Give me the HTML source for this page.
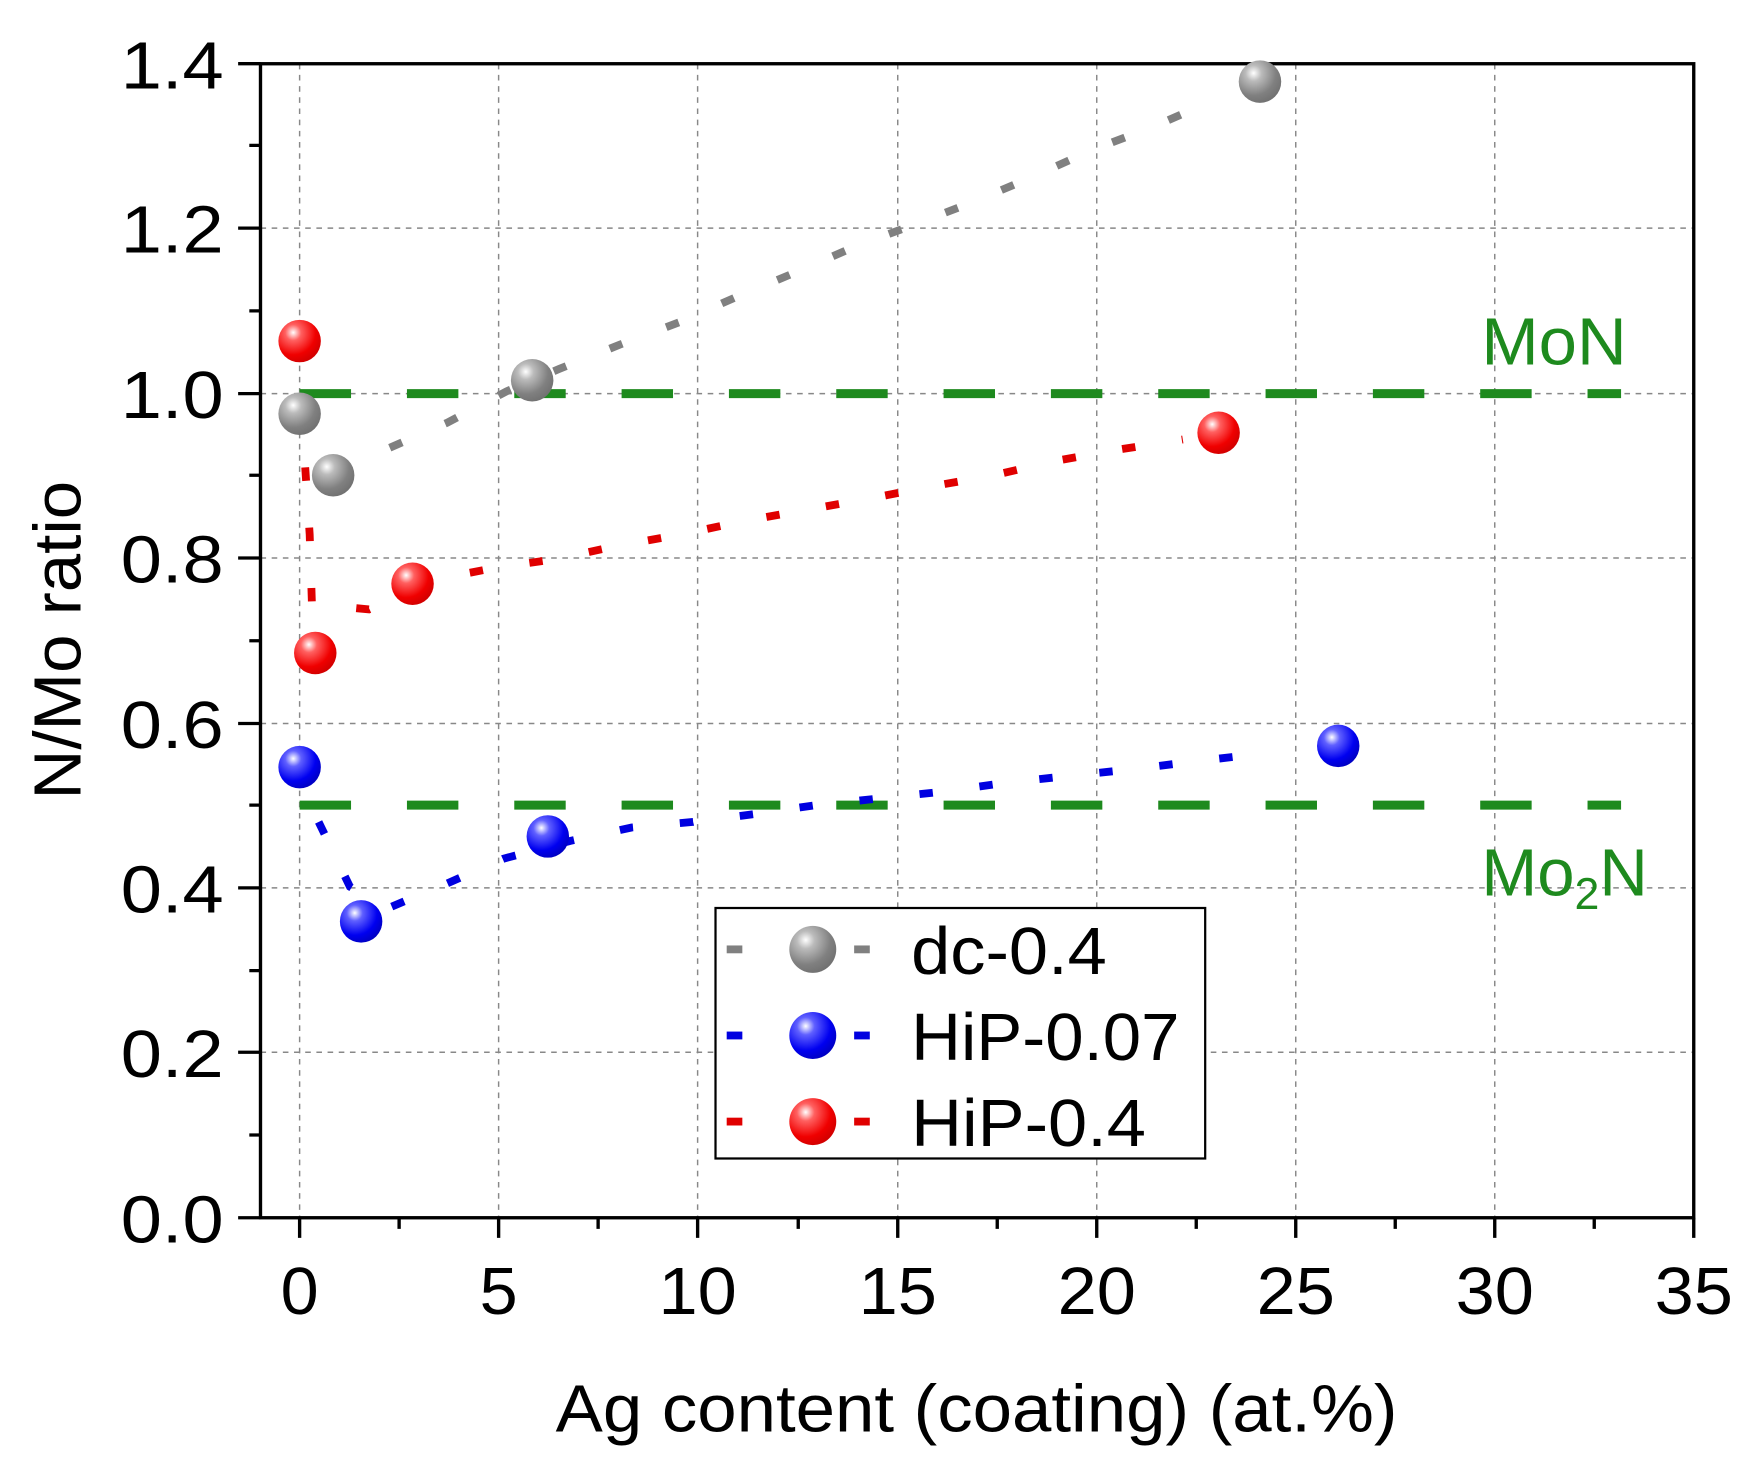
<!DOCTYPE html>
<html><head><style>html,body{margin:0;padding:0;background:#fff}svg{display:block}</style></head><body>
<svg width="1753" height="1466" viewBox="0 0 1568 1311" preserveAspectRatio="none" xmlns="http://www.w3.org/2000/svg" font-family="Liberation Sans, Arial, sans-serif">
<defs>
<radialGradient id="gg" cx="0.35" cy="0.3" r="0.75"><stop offset="0" stop-color="#fff"/><stop offset="0.25" stop-color="#bbb"/><stop offset="0.7" stop-color="#808080"/><stop offset="1" stop-color="#707070"/></radialGradient>
<radialGradient id="gr" cx="0.35" cy="0.3" r="0.75"><stop offset="0" stop-color="#fff"/><stop offset="0.25" stop-color="#ff6060"/><stop offset="0.7" stop-color="#f00000"/><stop offset="1" stop-color="#d00000"/></radialGradient>
<radialGradient id="gb" cx="0.35" cy="0.3" r="0.75"><stop offset="0" stop-color="#fff"/><stop offset="0.25" stop-color="#6060ff"/><stop offset="0.7" stop-color="#0000f0"/><stop offset="1" stop-color="#0000c0"/></radialGradient>
</defs>
<g stroke="#888" stroke-width="1.3" stroke-dasharray="5 5" fill="none">
<line x1="268" y1="57" x2="268" y2="1089"/><line x1="446" y1="57" x2="446" y2="1089"/><line x1="624" y1="57" x2="624" y2="1089"/><line x1="803" y1="57" x2="803" y2="1089"/><line x1="981" y1="57" x2="981" y2="1089"/><line x1="1159" y1="57" x2="1159" y2="1089"/><line x1="1337" y1="57" x2="1337" y2="1089"/>
<line x1="233" y1="204" x2="1515" y2="204"/><line x1="233" y1="352" x2="1515" y2="352"/><line x1="233" y1="499" x2="1515" y2="499"/><line x1="233" y1="647" x2="1515" y2="647"/><line x1="233" y1="794" x2="1515" y2="794"/><line x1="233" y1="941" x2="1515" y2="941"/>
</g>
<g stroke="#000" stroke-width="3" fill="none">
<rect x="233" y="57" width="1282" height="1032"/>
<path d="M233 57h-20M233 204h-20M233 352h-20M233 499h-20M233 647h-20M233 794h-20M233 941h-20M233 1089h-20"/>
<path d="M233 130h-10M233 278h-10M233 425h-10M233 573h-10M233 720h-10M233 868h-10M233 1015h-10"/>
<path d="M268 1089v18M446 1089v18M624 1089v18M803 1089v18M981 1089v18M1159 1089v18M1337 1089v18M1515 1089v18"/>
<path d="M357 1089v10M535 1089v10M714 1089v10M892 1089v10M1070 1089v10M1248 1089v10M1426 1089v10"/>
</g>
<g font-size="60" fill="#000">
<text x="108" y="79" textLength="92" lengthAdjust="spacingAndGlyphs">1.4</text><text x="108" y="226" textLength="92" lengthAdjust="spacingAndGlyphs">1.2</text><text x="108" y="374" textLength="92" lengthAdjust="spacingAndGlyphs">1.0</text><text x="108" y="521" textLength="92" lengthAdjust="spacingAndGlyphs">0.8</text><text x="108" y="669" textLength="92" lengthAdjust="spacingAndGlyphs">0.6</text><text x="108" y="816" textLength="92" lengthAdjust="spacingAndGlyphs">0.4</text><text x="108" y="963" textLength="92" lengthAdjust="spacingAndGlyphs">0.2</text><text x="108" y="1111" textLength="92" lengthAdjust="spacingAndGlyphs">0.0</text>
</g>
<g font-size="60" fill="#000">
<text x="251" y="1175" textLength="34" lengthAdjust="spacingAndGlyphs">0</text>
<text x="429" y="1175" textLength="34" lengthAdjust="spacingAndGlyphs">5</text>
<text x="589" y="1175" textLength="70" lengthAdjust="spacingAndGlyphs">10</text>
<text x="768" y="1175" textLength="70" lengthAdjust="spacingAndGlyphs">15</text>
<text x="946" y="1175" textLength="70" lengthAdjust="spacingAndGlyphs">20</text>
<text x="1124" y="1175" textLength="70" lengthAdjust="spacingAndGlyphs">25</text>
<text x="1302" y="1175" textLength="70" lengthAdjust="spacingAndGlyphs">30</text>
<text x="1480" y="1175" textLength="70" lengthAdjust="spacingAndGlyphs">35</text>
<text x="497" y="1280" textLength="753" lengthAdjust="spacingAndGlyphs">Ag content (coating) (at.%)</text>
<text transform="translate(72,715) rotate(-90)" textLength="285" lengthAdjust="spacingAndGlyphs">N/Mo ratio</text>
</g>
<g stroke="#1e8a1e" stroke-width="8" stroke-dasharray="46 50" fill="none">
<line x1="268" y1="352" x2="1450" y2="352"/><line x1="268" y1="720" x2="1450" y2="720"/>
</g>
<text x="1325" y="326" font-size="60" fill="#1e8a1e" textLength="130" lengthAdjust="spacingAndGlyphs">MoN</text>
<text x="1325" y="801" font-size="60" fill="#1e8a1e">Mo<tspan font-size="40" dy="12">2</tspan><tspan dy="-12">N</tspan></text>
<g fill="none" stroke-width="7" stroke-dasharray="12 42">
<polyline stroke="#808080" points="272,372 300,420 345,402 400,378 453,350 500,330 555,308 608,288 660,265 713,243 766,220 820,200 872,180 924,158 977,134 1030,114 1085,90"/>
<polyline stroke="#e00000" points="273,418 277,478 279,540 330,545 390,518 442,508 497,500 553,488 609,478 665,466 721,456 777,446 833,435 889,425 945,412 1001,402 1058,393"/>
<polyline stroke="#0000e0" points="285,735 313,793 345,813 400,790 450,768 510,752 565,740 620,735 675,728 730,720 787,714 843,708 900,700 955,694 1012,688 1068,681 1128,674"/>
</g>
<g>
<circle cx="268" cy="370" r="19" fill="url(#gg)"/><circle cx="298" cy="425" r="19" fill="url(#gg)"/><circle cx="476" cy="340" r="19" fill="url(#gg)"/><circle cx="1127" cy="73" r="19" fill="url(#gg)"/>
<circle cx="268" cy="305" r="19" fill="url(#gr)"/><circle cx="282" cy="584" r="19" fill="url(#gr)"/><circle cx="369" cy="522" r="19" fill="url(#gr)"/><circle cx="1090" cy="387" r="19" fill="url(#gr)"/>
<circle cx="268" cy="686" r="19" fill="url(#gb)"/><circle cx="323" cy="824" r="19" fill="url(#gb)"/><circle cx="490" cy="748" r="19" fill="url(#gb)"/><circle cx="1197" cy="667" r="19" fill="url(#gb)"/>
</g>
<rect x="640" y="812" width="438" height="224" fill="#fff" stroke="#000" stroke-width="2"/>
<g stroke-width="7">
<line x1="650" y1="849" x2="664" y2="849" stroke="#808080"/><line x1="764" y1="849" x2="778" y2="849" stroke="#808080"/>
<line x1="650" y1="926" x2="664" y2="926" stroke="#0000e0"/><line x1="764" y1="926" x2="778" y2="926" stroke="#0000e0"/>
<line x1="650" y1="1003" x2="664" y2="1003" stroke="#e00000"/><line x1="764" y1="1003" x2="778" y2="1003" stroke="#e00000"/>
</g>
<circle cx="727" cy="849" r="21" fill="url(#gg)"/><circle cx="727" cy="926" r="21" fill="url(#gb)"/><circle cx="727" cy="1003" r="21" fill="url(#gr)"/>
<g font-size="60" fill="#000">
<text x="815" y="871" textLength="175" lengthAdjust="spacingAndGlyphs">dc-0.4</text><text x="815" y="948" textLength="240" lengthAdjust="spacingAndGlyphs">HiP-0.07</text><text x="815" y="1025" textLength="210" lengthAdjust="spacingAndGlyphs">HiP-0.4</text>
</g>
</svg>
</body></html>
